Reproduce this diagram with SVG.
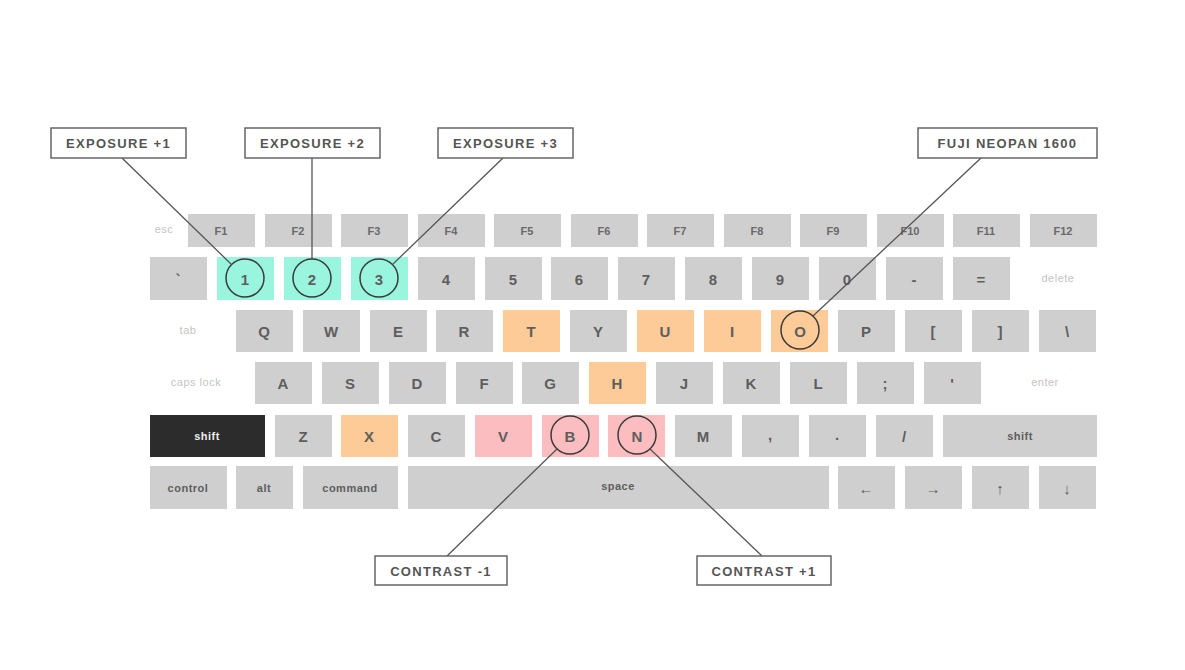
<svg xmlns="http://www.w3.org/2000/svg" width="1185" height="670" viewBox="0 0 1185 670">
<style>
.k{fill:#cfcfcf}.c{fill:#9af5df}.o{fill:#fccb97}.p{fill:#fbbdbf}.d{fill:#2c2c2c}
text{font-family:"Liberation Sans",Arial,sans-serif;text-anchor:middle;dominant-baseline:central}
.fk{font-size:11px;fill:#6a6a6a;font-weight:bold}
.lk{font-size:15px;fill:#5e5e5e;font-weight:bold}
.sk{font-size:11px;fill:#5e5e5e;font-weight:bold;letter-spacing:0.5px}
.gl{font-size:11px;fill:#c4c4c4;letter-spacing:0.5px}
.lb rect{fill:#fff;stroke:#666;stroke-width:1.5}
.lb text{font-size:13px;fill:#555;font-weight:bold;letter-spacing:1.3px}
.ln{stroke:#555;stroke-width:1.3;fill:none}
.ci{stroke:#3a3a3a;stroke-width:1.5;fill:none}
</style>
<rect width="1185" height="670" fill="#fff"/>
<g id="frow">
<text class="gl" x="164" y="229">esc</text>
<rect class="k" x="188" y="214" width="67" height="33"/><text class="fk" x="221" y="231">F1</text>
<rect class="k" x="265" y="214" width="67" height="33"/><text class="fk" x="298" y="231">F2</text>
<rect class="k" x="341" y="214" width="67" height="33"/><text class="fk" x="374" y="231">F3</text>
<rect class="k" x="418" y="214" width="67" height="33"/><text class="fk" x="451" y="231">F4</text>
<rect class="k" x="494" y="214" width="67" height="33"/><text class="fk" x="527" y="231">F5</text>
<rect class="k" x="571" y="214" width="67" height="33"/><text class="fk" x="604" y="231">F6</text>
<rect class="k" x="647" y="214" width="67" height="33"/><text class="fk" x="680" y="231">F7</text>
<rect class="k" x="724" y="214" width="67" height="33"/><text class="fk" x="757" y="231">F8</text>
<rect class="k" x="800" y="214" width="67" height="33"/><text class="fk" x="833" y="231">F9</text>
<rect class="k" x="877" y="214" width="67" height="33"/><text class="fk" x="910" y="231">F10</text>
<rect class="k" x="953" y="214" width="67" height="33"/><text class="fk" x="986" y="231">F11</text>
<rect class="k" x="1030" y="214" width="67" height="33"/><text class="fk" x="1063" y="231">F12</text>
</g>
<g id="numrow">
<rect class="k" x="150" y="257" width="57" height="43"/><text class="lk" x="178" y="279">`</text>
<rect class="c" x="217" y="257" width="57" height="43"/><text class="lk" x="245" y="279">1</text>
<rect class="c" x="284" y="257" width="57" height="43"/><text class="lk" x="312" y="279">2</text>
<rect class="c" x="351" y="257" width="57" height="43"/><text class="lk" x="379" y="279">3</text>
<rect class="k" x="418" y="257" width="57" height="43"/><text class="lk" x="446" y="279">4</text>
<rect class="k" x="485" y="257" width="57" height="43"/><text class="lk" x="513" y="279">5</text>
<rect class="k" x="551" y="257" width="57" height="43"/><text class="lk" x="579" y="279">6</text>
<rect class="k" x="618" y="257" width="57" height="43"/><text class="lk" x="646" y="279">7</text>
<rect class="k" x="685" y="257" width="57" height="43"/><text class="lk" x="713" y="279">8</text>
<rect class="k" x="752" y="257" width="57" height="43"/><text class="lk" x="780" y="279">9</text>
<rect class="k" x="819" y="257" width="57" height="43"/><text class="lk" x="847" y="279">0</text>
<rect class="k" x="886" y="257" width="57" height="43"/><text class="lk" x="914" y="279">-</text>
<rect class="k" x="953" y="257" width="57" height="43"/><text class="lk" x="981" y="279">=</text>
<text class="gl" x="1058" y="278">delete</text>
</g>
<g id="qrow">
<text class="gl" x="188" y="330">tab</text>
<rect class="k" x="236" y="310" width="57" height="42"/><text class="lk" x="264" y="331">Q</text>
<rect class="k" x="303" y="310" width="57" height="42"/><text class="lk" x="331" y="331">W</text>
<rect class="k" x="370" y="310" width="57" height="42"/><text class="lk" x="398" y="331">E</text>
<rect class="k" x="436" y="310" width="57" height="42"/><text class="lk" x="464" y="331">R</text>
<rect class="o" x="503" y="310" width="57" height="42"/><text class="lk" x="531" y="331">T</text>
<rect class="k" x="570" y="310" width="57" height="42"/><text class="lk" x="598" y="331">Y</text>
<rect class="o" x="637" y="310" width="57" height="42"/><text class="lk" x="665" y="331">U</text>
<rect class="o" x="704" y="310" width="57" height="42"/><text class="lk" x="732" y="331">I</text>
<rect class="o" x="771" y="310" width="57" height="42"/><text class="lk" x="800" y="331">O</text>
<rect class="k" x="838" y="310" width="57" height="42"/><text class="lk" x="866" y="331">P</text>
<rect class="k" x="905" y="310" width="57" height="42"/><text class="lk" x="933" y="331">[</text>
<rect class="k" x="972" y="310" width="57" height="42"/><text class="lk" x="1000" y="331">]</text>
<rect class="k" x="1039" y="310" width="57" height="42"/><text class="lk" x="1067" y="331">\</text>
</g>
<g id="arow">
<text class="gl" x="196" y="382">caps lock</text>
<rect class="k" x="255" y="362" width="57" height="42"/><text class="lk" x="283" y="383">A</text>
<rect class="k" x="322" y="362" width="57" height="42"/><text class="lk" x="350" y="383">S</text>
<rect class="k" x="389" y="362" width="57" height="42"/><text class="lk" x="417" y="383">D</text>
<rect class="k" x="456" y="362" width="57" height="42"/><text class="lk" x="484" y="383">F</text>
<rect class="k" x="522" y="362" width="57" height="42"/><text class="lk" x="550" y="383">G</text>
<rect class="o" x="589" y="362" width="57" height="42"/><text class="lk" x="617" y="383">H</text>
<rect class="k" x="656" y="362" width="57" height="42"/><text class="lk" x="684" y="383">J</text>
<rect class="k" x="723" y="362" width="57" height="42"/><text class="lk" x="751" y="383">K</text>
<rect class="k" x="790" y="362" width="57" height="42"/><text class="lk" x="818" y="383">L</text>
<rect class="k" x="857" y="362" width="57" height="42"/><text class="lk" x="885" y="383">;</text>
<rect class="k" x="924" y="362" width="57" height="42"/><text class="lk" x="952" y="383">'</text>
<text class="gl" x="1045" y="382">enter</text>
</g>
<g id="zrow">
<rect class="d" x="150" y="415" width="115" height="42"/><text class="sk" x="207" y="436" style="fill:#eee">shift</text>
<rect class="k" x="275" y="415" width="57" height="42"/><text class="lk" x="303" y="436">Z</text>
<rect class="o" x="341" y="415" width="57" height="42"/><text class="lk" x="369" y="436">X</text>
<rect class="k" x="408" y="415" width="57" height="42"/><text class="lk" x="436" y="436">C</text>
<rect class="p" x="475" y="415" width="57" height="42"/><text class="lk" x="503" y="436">V</text>
<rect class="p" x="542" y="415" width="57" height="42"/><text class="lk" x="570" y="436">B</text>
<rect class="p" x="608" y="415" width="57" height="42"/><text class="lk" x="637" y="436">N</text>
<rect class="k" x="675" y="415" width="57" height="42"/><text class="lk" x="703" y="436">M</text>
<rect class="k" x="742" y="415" width="57" height="42"/><text class="lk" x="770" y="434">,</text>
<rect class="k" x="809" y="415" width="57" height="42"/><text class="lk" x="837" y="434">.</text>
<rect class="k" x="876" y="415" width="57" height="42"/><text class="lk" x="904" y="436">/</text>
<rect class="k" x="943" y="415" width="154" height="42"/><text class="sk" x="1020" y="436">shift</text>
</g>
<g id="bottomrow">
<rect class="k" x="150" y="466" width="77" height="43"/><text class="sk" x="188" y="488">control</text>
<rect class="k" x="236" y="466" width="57" height="43"/><text class="sk" x="264" y="488">alt</text>
<rect class="k" x="303" y="466" width="95" height="43"/><text class="sk" x="350" y="488">command</text>
<rect class="k" x="408" y="466" width="421" height="43"/><text class="sk" x="618" y="486">space</text>
<rect class="k" x="838" y="466" width="57" height="43"/><text class="lk" x="866" y="488">←</text>
<rect class="k" x="905" y="466" width="57" height="43"/><text class="lk" x="933" y="488">→</text>
<rect class="k" x="972" y="466" width="57" height="43"/><text class="lk" x="1000" y="488">↑</text>
<rect class="k" x="1039" y="466" width="57" height="43"/><text class="lk" x="1067" y="488">↓</text>
</g>
<g id="connectors">
<line class="ln" x1="122" y1="158" x2="231" y2="264"/>
<line class="ln" x1="312" y1="158" x2="312" y2="259"/>
<line class="ln" x1="503" y1="158" x2="393" y2="264"/>
<line class="ln" x1="981" y1="158" x2="813" y2="316"/>
<line class="ln" x1="557" y1="449" x2="447" y2="556"/>
<line class="ln" x1="650" y1="449" x2="762" y2="556"/>
<circle class="ci" cx="245" cy="278" r="19"/>
<circle class="ci" cx="312" cy="278" r="19"/>
<circle class="ci" cx="379" cy="278" r="19"/>
<circle class="ci" cx="800" cy="330" r="19"/>
<circle class="ci" cx="570" cy="435" r="19"/>
<circle class="ci" cx="637" cy="435" r="19"/>
</g>
<g id="label-exp1" class="lb"><rect x="51" y="128" width="135" height="30"/><text x="118.5" y="143">EXPOSURE +1</text></g>
<g id="label-exp2" class="lb"><rect x="245" y="128" width="135" height="30"/><text x="312.5" y="143">EXPOSURE +2</text></g>
<g id="label-exp3" class="lb"><rect x="438" y="128" width="135" height="30"/><text x="505.5" y="143">EXPOSURE +3</text></g>
<g id="label-fuji" class="lb"><rect x="918" y="128" width="179" height="30"/><text x="1007.5" y="143">FUJI NEOPAN 1600</text></g>
<g id="label-con1" class="lb"><rect x="375" y="556" width="132" height="29"/><text x="441" y="571">CONTRAST -1</text></g>
<g id="label-con2" class="lb"><rect x="697" y="556" width="134" height="29"/><text x="764" y="571">CONTRAST +1</text></g>
</svg>
